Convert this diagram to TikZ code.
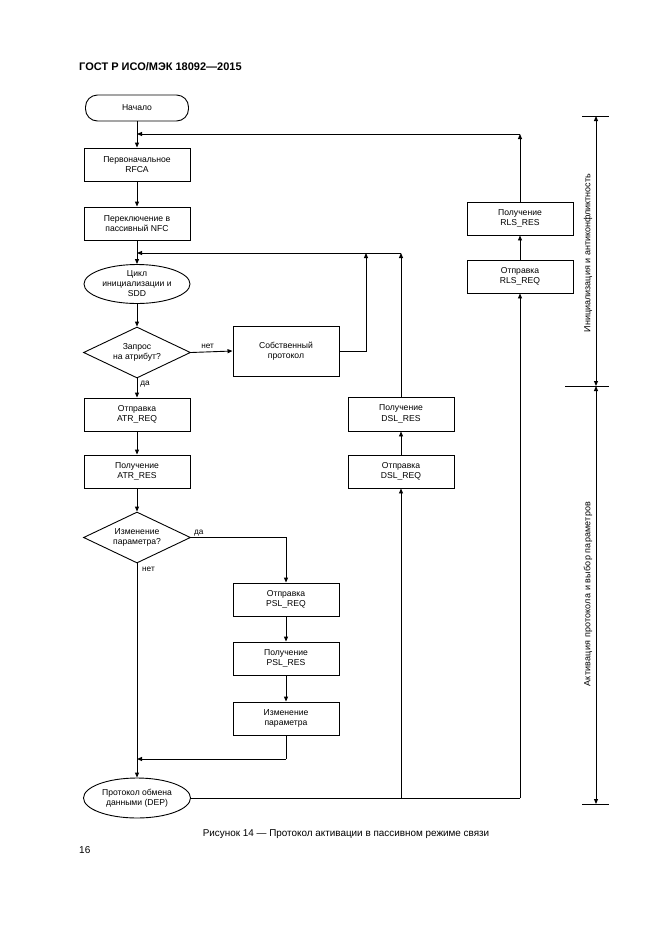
\documentclass[tikz,border=0pt]{standalone}
\usepackage{fontspec}
\setmainfont{Liberation Sans}
\usetikzlibrary{arrows.meta,shapes.geometric}
\tikzset{
  box/.style={draw,line width=0.9pt,minimum width=106pt,minimum height=33pt,inner sep=0pt,align=center,font=\fontsize{8.6}{10.5}\selectfont},
  elli/.style={draw,ellipse,line width=0.9pt,inner sep=0pt},
  txt/.style={align=center,inner sep=0pt,font=\fontsize{8.6}{10}\selectfont},
  dia/.style={draw,diamond,line width=0.9pt,minimum width=107pt,minimum height=51pt,inner sep=0pt,align=center,shape aspect=2.1,font=\fontsize{8.6}{10.5}\selectfont},
  arr/.style={line width=0.9pt,-{Triangle[length=5pt,width=4pt]}},
  ln/.style={line width=0.9pt},
  lbl/.style={inner sep=0pt,font=\fontsize{8.2}{10}\selectfont},
  dim/.style={line width=0.9pt,{Triangle[length=5pt,width=4pt]}-{Triangle[length=5pt,width=4pt]}},
}
\begin{document}
\begin{tikzpicture}[x=1pt,y=-1pt]
\useasboundingbox (0,0) rectangle (661,935);
\node[anchor=west,inner sep=0pt,font=\bfseries\fontsize{11}{12}\selectfont] (hdr) at (79,67) {ГОСТ Р ИСО/МЭК 18092—2015};

% left column
\node[draw,line width=0.9pt,rounded corners=12pt,minimum width=103pt,minimum height=26pt,inner sep=0pt,font=\fontsize{8.6}{10.5}\selectfont] (start) at (137,108) {Начало};
\node[box] (rfca) at (137,164.5) {Первоначальное\\RFCA};
\node[box] (nfc) at (137,223.5) {Переключение в\\пассивный NFC};
\node[elli,minimum width=106pt,minimum height=39pt] (cyc) at (137,284) {};
\node[txt] (cyct) at (cyc.center) {Цикл\\инициализации и\\SDD};
\node[dia] (q1) at (137,352.5) {Запрос\\на атрибут?};
\node[box,minimum height=50pt] (own) at (286,351) {Собственный\\протокол};
\node[box] (atrreq) at (137,414.5) {Отправка\\ATR\_REQ};
\node[box] (atrres) at (137,471.5) {Получение\\ATR\_RES};
\node[dia] (q2) at (137,537.5) {Изменение\\параметра?};
\node[box] (pslreq) at (286,599.5) {Отправка\\PSL\_REQ};
\node[box] (pslres) at (286,658.5) {Получение\\PSL\_RES};
\node[box] (chg) at (286,718.5) {Изменение\\параметра};
\node[elli,minimum width=107pt,minimum height=40pt] (dep) at (137,798) {};
\node[txt] (dept) at (dep.center) {Протокол обмена\\данными (DEP)};

% middle / right column
\node[box,minimum height=34pt] (dslres) at (401,414) {Получение\\DSL\_RES};
\node[box] (dslreq) at (401,471.5) {Отправка\\DSL\_REQ};
\node[box] (rlsres) at (520,218.5) {Получение\\RLS\_RES};
\node[box] (rlsreq) at (520,276.5) {Отправка\\RLS\_REQ};

% junction coordinates
\coordinate (j1) at (137,134);
\coordinate (j2) at (137,253);
\coordinate (j3) at (137,759);
\coordinate (c366) at (366,253);
\coordinate (c401) at (401,253);
\coordinate (c520) at (520,134);
\coordinate (b401) at (401,798);
\coordinate (b520) at (520,798);
\coordinate (k286) at (286,759);

% connectors
\draw[arr] (start) -- (rfca);
\draw[arr] (rfca) -- (nfc);
\draw[arr] (nfc) -- (cyc);
\draw[arr] (cyc) -- (q1);
\draw[arr] (q1.east) -- node[lbl,above=3pt,pos=0.4] (no1) {нет} (own.west);
\draw[arr] (q1.south) -- node[lbl,right=3pt,pos=0.3] (yes1) {да} (atrreq.north);
\draw[arr] (atrreq) -- (atrres);
\draw[arr] (atrres) -- (q2);
\draw[arr] (q2.east) -| (pslreq.north);
\node[lbl,anchor=south west] (yes2) at ([xshift=3pt,yshift=1pt]q2.east) {да};
\draw[arr] (q2.south) -- (dep.north);
\node[lbl,anchor=north west] (no2) at ([xshift=5pt,yshift=-3pt]q2.south) {нет};
\draw[arr] (pslreq) -- (pslres);
\draw[arr] (pslres) -- (chg);
\draw[ln] (chg.south) -- (k286);
\draw[arr] (k286) -- (j3);
\draw[arr] (own.east) -| (c366);
\draw[arr] (dslres.north) -- (c401);
\draw[arr] (c401) -- (j2);
\draw[arr] (dslreq.north) -- (dslres.south);
\draw[ln] (dep.east) -- (b520);
\draw[arr] (b401) -- (dslreq.south);
\draw[arr] (b520) -- (rlsreq.south);
\draw[arr] (rlsreq.north) -- (rlsres.south);
\draw[arr] (rlsres.north) -- (c520);
\draw[arr] (c520) -- (j1);

% dimension lines
\coordinate (d1) at (596,116);
\coordinate (d2) at (596,386);
\coordinate (d3) at (596,804);
\draw[ln] (582,116) -- (609,116);
\draw[ln] (565,386) -- (609,386);
\draw[ln] (582,804) -- (609,804);
\draw[dim] (d1) -- (d2);
\draw[dim] (d2) -- (d3);
\node[rotate=90,inner sep=0pt,font=\fontsize{9}{10}\selectfont] (dimt1) at (588,253) {Инициализация и антиконфликтность};
\node[rotate=90,inner sep=0pt,font=\fontsize{9}{10}\selectfont\addfontfeature{LetterSpace=2.2}] (dimt2) at (588,594) {Активация протокола и выбор параметров};

% caption
\node[inner sep=0pt,font=\fontsize{9.9}{11}\selectfont] (cap) at (346,834) {Рисунок 14 — Протокол активации в пассивном режиме связи};
\node[anchor=west,inner sep=0pt,font=\fontsize{10}{11}\selectfont] (pg) at (79,850) {16};
\end{tikzpicture}
\end{document}
